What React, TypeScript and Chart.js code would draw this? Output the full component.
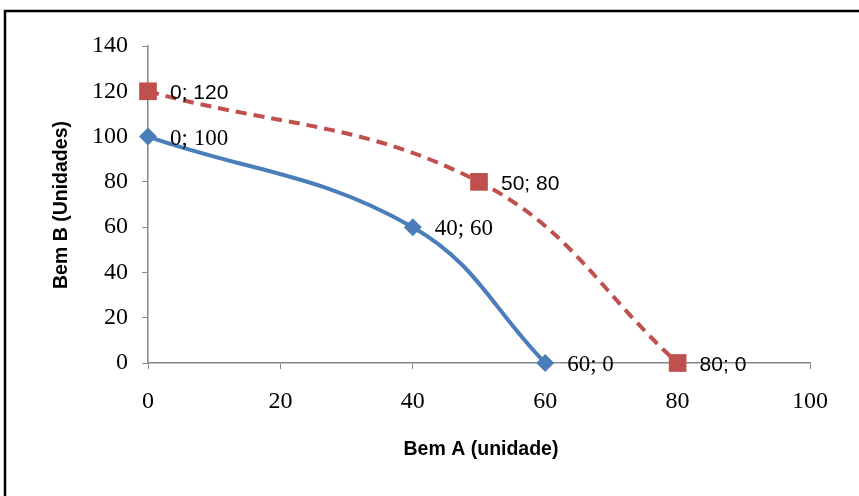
import React, { useEffect, useRef } from "react";
import { Chart, registerables } from "chart.js";

Chart.register(...registerables);

const seriesAx = [0, 40, 60];
const seriesAy = [100, 60, 0];
const seriesBx = [0, 50, 80];
const seriesBy = [120, 80, 0];
const xTitle = "Bem A (unidade)";
const yTitle = "Bem B (Unidades)";

const BLUE = "#4A7EBB";
const RED = "#C0504D";
const SERIF = "'Liberation Serif', 'Times New Roman', serif";
const SANS = "'Liberation Sans', Arial, sans-serif";

const labelPlugin = {
  id: "customLabels",
  afterDatasetsDraw(chart: any) {
    const ctx = chart.ctx;
    ctx.save();
    chart.data.datasets.forEach((ds: any, i: number) => {
      const meta = chart.getDatasetMeta(i);
      ctx.font = ds.labelFont;
      ctx.fillStyle = "#000";
      ctx.textBaseline = "middle";
      ctx.textAlign = "left";
      meta.data.forEach((pt: any, j: number) => {
        const d = ds.data[j];
        ctx.fillText(`${d.x}; ${d.y}`, pt.x + 22, pt.y + 2);
      });
    });
    ctx.restore();
  },
  afterDraw(chart: any) {
    const ctx = chart.ctx;
    const ca = chart.chartArea;
    ctx.save();
    ctx.font = `bold 19.5px ${SANS}`;
    ctx.fillStyle = "#000";
    ctx.textAlign = "center";
    ctx.textBaseline = "middle";
    ctx.fillText(xTitle, 481, 450);
    ctx.translate(62, 205);
    ctx.rotate(-Math.PI / 2);
    ctx.fillText(yTitle, 0, 0);
    ctx.restore();
    ctx.save();
    ctx.strokeStyle = "#000";
    ctx.lineWidth = 2.5;
    ctx.strokeRect(5, 11, 900, 600);
    ctx.restore();
  },
};

export default function App() {
  const ref = useRef<HTMLCanvasElement>(null);
  useEffect(() => {
    document.body.style.margin = "0";
    const canvas = ref.current!;
    const chart = new Chart(canvas, {
      type: "scatter",
      data: {
        datasets: [
          {
            label: "B",
            data: seriesBx.map((x, i) => ({ x, y: seriesBy[i] })),
            showLine: true,
            borderColor: RED,
            backgroundColor: RED,
            borderWidth: 4,
            borderDash: [11, 7],
            tension: 0.4,
            pointStyle: "rect",
            pointRadius: 12.5,
            pointBorderWidth: 0,
            clip: false,
            labelFont: `21px ${SANS}`,
          } as any,
          {
            label: "A",
            data: seriesAx.map((x, i) => ({ x, y: seriesAy[i] })),
            showLine: true,
            borderColor: BLUE,
            backgroundColor: BLUE,
            borderWidth: 4,
            tension: 0.4,
            pointStyle: "rectRot",
            pointRadius: 9,
            pointBorderWidth: 0,
            clip: false,
            labelFont: `23px ${SERIF}`,
          } as any,
        ],
      },
      options: {
        animation: false,
        responsive: false,
        layout: { padding: { left: 0, right: 49, top: 46, bottom: 0 } },
        plugins: { legend: { display: false }, tooltip: { enabled: false } },
        scales: {
          x: {
            type: "linear",
            min: 0,
            max: 100,
            afterFit: (s: any) => {
              s.height = 133;
            },
            ticks: {
              stepSize: 20,
              color: "#000",
              font: { family: SERIF, size: 24 },
              padding: 18,
            },
            grid: {
              drawOnChartArea: false,
              drawTicks: true,
              tickLength: 6,
              color: "#868686",
            },
            border: { color: "#868686", width: 1.5 },
          },
          y: {
            type: "linear",
            min: 0,
            max: 140,
            afterFit: (s: any) => {
              s.width = 148;
            },
            ticks: {
              stepSize: 20,
              color: "#000",
              font: { family: SERIF, size: 24 },
              padding: 14,
            },
            grid: {
              drawOnChartArea: false,
              drawTicks: true,
              tickLength: 6,
              color: "#868686",
            },
            border: { color: "#868686", width: 1.5 },
          },
        },
      },
      plugins: [labelPlugin],
    });
    return () => chart.destroy();
  }, []);
  return (
    <div style={{ position: "fixed", left: 0, top: 0, width: 859, height: 496, background: "#fff" }}>
      <canvas ref={ref} width={859} height={496} style={{ width: 859, height: 496, display: "block" }} />
    </div>
  );
}
